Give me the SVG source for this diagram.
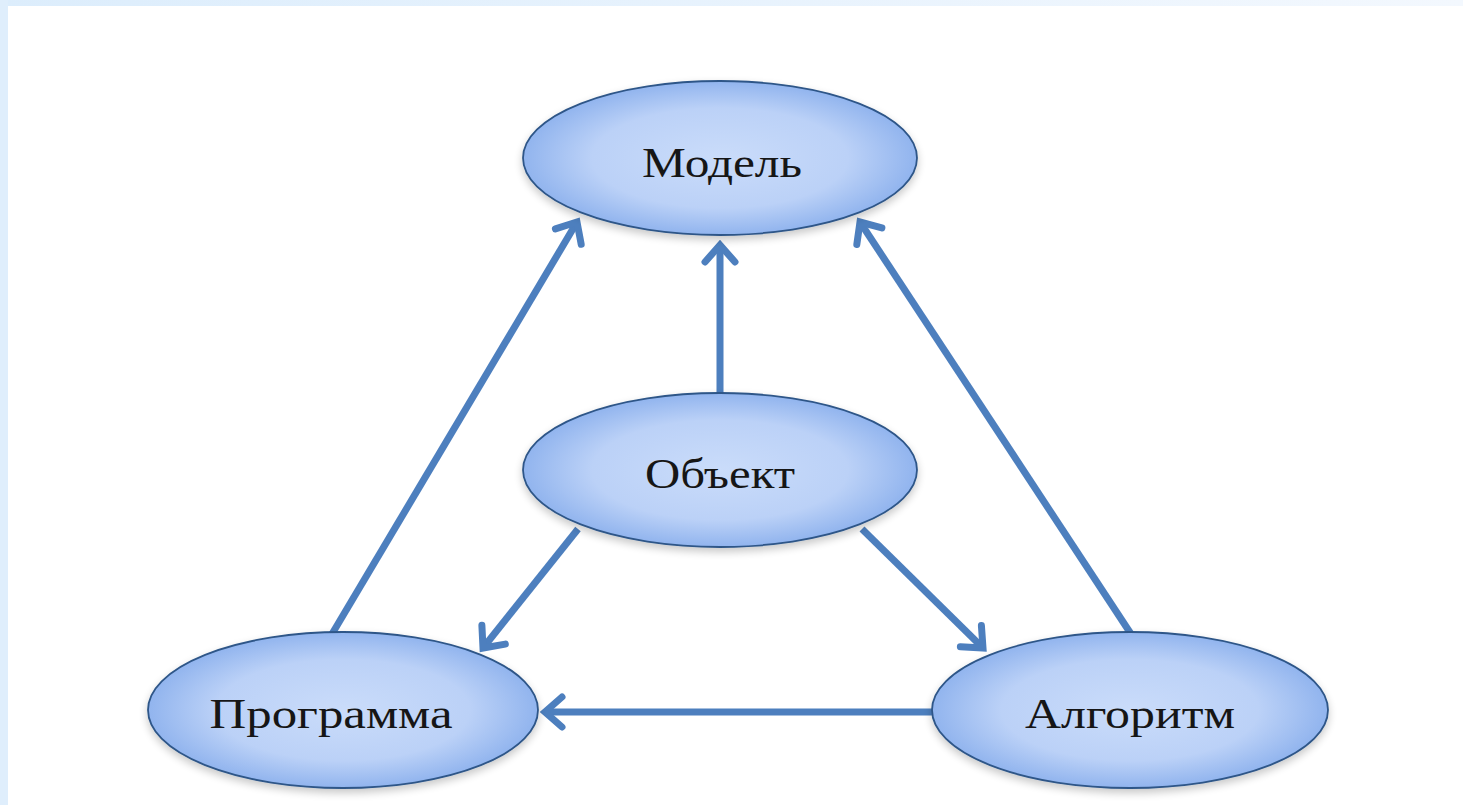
<svg xmlns="http://www.w3.org/2000/svg" width="1463" height="805" viewBox="0 0 1463 805">
<style>
.node ellipse{fill:url(#g);stroke:#2e5688;stroke-width:1.8;filter:url(#sh)}
.node text{font-family:"Liberation Serif","DejaVu Serif",serif;font-size:43px;fill:#161616;text-anchor:middle}
.conn line{stroke:#4d7fbe;stroke-width:7;marker-end:url(#ah)}
</style>
<defs>
<radialGradient id="g" cx="0.5" cy="0.5" r="0.5">
<stop offset="0" stop-color="#cadcfa"/>
<stop offset="0.65" stop-color="#bbd1f7"/>
<stop offset="1" stop-color="#91b4ee"/>
</radialGradient>
<linearGradient id="tb" x1="0" y1="0" x2="1" y2="0">
<stop offset="0" stop-color="#dcedfc"/>
<stop offset="1" stop-color="#f3f8fe"/>
</linearGradient>
<filter id="sh" x="-10%" y="-10%" width="120%" height="130%">
<feGaussianBlur in="SourceAlpha" stdDeviation="4"/>
<feOffset dy="4"/>
<feComponentTransfer><feFuncA type="linear" slope="0.22"/></feComponentTransfer>
<feMerge><feMergeNode/><feMergeNode in="SourceGraphic"/></feMerge>
</filter>
<marker id="ah" markerUnits="userSpaceOnUse" viewBox="-24 -20 30 40" markerWidth="30" markerHeight="40" refX="0" refY="0" orient="auto">
<path d="M-17,-15 L0,0 L-17,15" fill="none" stroke="#4d7fbe" stroke-width="7" stroke-linejoin="miter" stroke-linecap="round"/>
</marker>
</defs>
<rect x="0" y="0" width="1463" height="805" fill="#ffffff"/>
<rect x="0" y="0" width="1463" height="6" fill="url(#tb)"/>
<rect x="0" y="0" width="8" height="805" fill="#dfeefc"/>
<g class="conn" id="connectors">
<line x1="332" y1="634" x2="577" y2="222"/>
<line x1="720" y1="393" x2="720" y2="245"/>
<line x1="1131" y1="634" x2="860" y2="222"/>
<line x1="578" y1="529" x2="483" y2="648"/>
<line x1="862" y1="529" x2="983" y2="648"/>
<line x1="932" y1="712" x2="545" y2="712"/>
</g>
<g class="node" id="model"><ellipse cx="720" cy="158" rx="197" ry="77"/><text x="722" y="177" textLength="160" lengthAdjust="spacingAndGlyphs">Модель</text></g>
<g class="node" id="object"><ellipse cx="720" cy="470" rx="197" ry="77"/><text x="720" y="488" textLength="150" lengthAdjust="spacingAndGlyphs">Объект</text></g>
<g class="node" id="program"><ellipse cx="343" cy="710" rx="195" ry="78"/><text x="331" y="728" textLength="243" lengthAdjust="spacingAndGlyphs">Программа</text></g>
<g class="node" id="algorithm"><ellipse cx="1130" cy="710" rx="198" ry="78"/><text x="1130" y="728" textLength="210" lengthAdjust="spacingAndGlyphs">Алгоритм</text></g>
</svg>
